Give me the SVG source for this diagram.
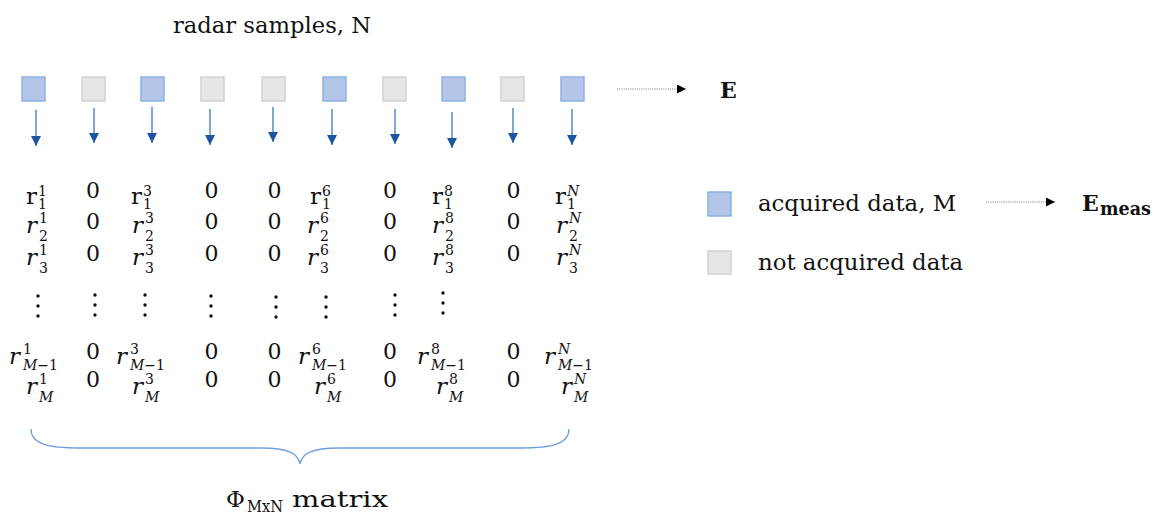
<svg xmlns="http://www.w3.org/2000/svg" width="1158" height="523" viewBox="0 0 1158 523">
<style>
.t{font-family:"DejaVu Serif","Liberation Serif",serif;fill:#111;}
.acq{fill:#b3c6e8;stroke:#8eb0e4;stroke-width:1.5;}
.not{fill:#e6e6e6;stroke:#d2d2d2;stroke-width:1.5;}
.m{font-family:"DejaVu Serif","Liberation Serif",serif;font-size:23px;fill:#111;}
.mi{font-style:italic;}
.s{font-family:"DejaVu Serif","Liberation Serif",serif;font-size:14px;fill:#111;}
.z{font-family:"DejaVu Serif","Liberation Serif",serif;font-size:22px;fill:#111;text-anchor:middle;}
.ar{stroke:#3f78c0;stroke-width:1.3;fill:none;}
.dot{stroke:#8a8a8a;stroke-width:1.2;stroke-dasharray:1.2 1;fill:none;}
.d{fill:#111;}
</style>
<defs>
<marker id="bh" viewBox="0 0 10 10" refX="10" refY="5" markerWidth="10" markerHeight="10" markerUnits="userSpaceOnUse" orient="auto"><path d="M0,0 L10,5 L0,10 z" fill="#1c56a0"/></marker>
<marker id="kh" viewBox="0 0 10 10" refX="10" refY="5" markerWidth="10" markerHeight="9" markerUnits="userSpaceOnUse" orient="auto"><path d="M0,0 L10,5 L0,10 z" fill="#000"/></marker>
</defs>

<text class="t" x="173" y="33" font-size="22" textLength="198" lengthAdjust="spacingAndGlyphs">radar samples, N</text>

<g id="samples">
<rect id="s1" class="acq" x="22" y="77" width="23" height="24"/>
<rect id="s2" class="not" x="82" y="77" width="23" height="24"/>
<rect id="s3" class="acq" x="141" y="77" width="23" height="24"/>
<rect id="s4" class="not" x="201" y="77" width="23" height="24"/>
<rect id="s5" class="not" x="262" y="77" width="23" height="24"/>
<rect id="s6" class="acq" x="323" y="77" width="23" height="24"/>
<rect id="s7" class="not" x="383" y="77" width="23" height="24"/>
<rect id="s8" class="acq" x="442" y="77" width="23" height="24"/>
<rect id="s9" class="not" x="501" y="77" width="23" height="24"/>
<rect id="s10" class="acq" x="561" y="77" width="23" height="24"/>
</g>

<g id="E">
<text class="t" x="720" y="98" font-size="22" font-weight="bold">E</text>
</g>

<g id="col1">
<text class="m" x="26" y="204">r</text><text class="s" x="38" y="196">1</text><text class="s" x="38" y="209">1</text>
<text class="m mi" x="26" y="233">r</text><text class="s" x="39" y="223">1</text><text class="s" x="39" y="241">2</text>
<text class="m mi" x="26" y="265">r</text><text class="s" x="39" y="255">1</text><text class="s" x="39" y="273">3</text>
<circle class="d" cx="38" cy="296" r="1.7"/><circle class="d" cx="38" cy="306" r="1.7"/><circle class="d" cx="38" cy="316" r="1.7"/>
<text class="m mi" x="9" y="364">r</text><text class="s" x="23" y="354">1</text><text class="s" x="23" y="370"><tspan font-style="italic">M</tspan>−1</text>
<text class="m mi" x="26" y="394">r</text><text class="s" x="39" y="384">1</text><text class="s" x="39" y="402" font-style="italic">M</text>
</g>

<g id="col2">
<text class="z" x="93" y="198">0</text><text class="z" x="93" y="229">0</text><text class="z" x="93" y="261">0</text>
<circle class="d" cx="95" cy="295" r="1.7"/><circle class="d" cx="95" cy="305" r="1.7"/><circle class="d" cx="95" cy="315" r="1.7"/>
<text class="z" x="93" y="359">0</text><text class="z" x="93" y="387">0</text>
</g>

<g id="col3">
<text class="m" x="131" y="204">r</text><text class="s" x="143" y="196">3</text><text class="s" x="143" y="209">1</text>
<text class="m mi" x="132" y="233">r</text><text class="s" x="145" y="223">3</text><text class="s" x="145" y="241">2</text>
<text class="m mi" x="132" y="265">r</text><text class="s" x="145" y="255">3</text><text class="s" x="145" y="273">3</text>
<circle class="d" cx="145" cy="295" r="1.7"/><circle class="d" cx="145" cy="305" r="1.7"/><circle class="d" cx="145" cy="315" r="1.7"/>
<text class="m mi" x="116" y="364">r</text><text class="s" x="130" y="354">3</text><text class="s" x="130" y="370"><tspan font-style="italic">M</tspan>−1</text>
<text class="m mi" x="132" y="394">r</text><text class="s" x="145" y="384">3</text><text class="s" x="145" y="402" font-style="italic">M</text>
</g>

<g id="col4">
<text class="z" x="211.5" y="198">0</text><text class="z" x="211.5" y="229">0</text><text class="z" x="211.5" y="261">0</text>
<circle class="d" cx="211" cy="296" r="1.7"/><circle class="d" cx="211" cy="306" r="1.7"/><circle class="d" cx="211" cy="316" r="1.7"/>
<text class="z" x="211.5" y="359">0</text><text class="z" x="211.5" y="387">0</text>
</g>

<g id="col5">
<text class="z" x="274.5" y="198">0</text><text class="z" x="274.5" y="229">0</text><text class="z" x="274.5" y="261">0</text>
<circle class="d" cx="276" cy="297" r="1.7"/><circle class="d" cx="276" cy="307" r="1.7"/><circle class="d" cx="276" cy="317" r="1.7"/>
<text class="z" x="274.5" y="359">0</text><text class="z" x="274.5" y="387">0</text>
</g>

<g id="col6">
<text class="m" x="310" y="204">r</text><text class="s" x="322" y="196">6</text><text class="s" x="322" y="209">1</text>
<text class="m mi" x="307" y="233">r</text><text class="s" x="320" y="223">6</text><text class="s" x="320" y="241">2</text>
<text class="m mi" x="307" y="265">r</text><text class="s" x="320" y="255">6</text><text class="s" x="320" y="273">3</text>
<circle class="d" cx="326" cy="297" r="1.7"/><circle class="d" cx="326" cy="307" r="1.7"/><circle class="d" cx="326" cy="317" r="1.7"/>
<text class="m mi" x="298" y="364">r</text><text class="s" x="312" y="354">6</text><text class="s" x="312" y="370"><tspan font-style="italic">M</tspan>−1</text>
<text class="m mi" x="314" y="394">r</text><text class="s" x="327" y="384">6</text><text class="s" x="327" y="402" font-style="italic">M</text>
</g>

<g id="col7">
<text class="z" x="390" y="198">0</text><text class="z" x="390" y="229">0</text><text class="z" x="390" y="261">0</text>
<circle class="d" cx="395" cy="295" r="1.7"/><circle class="d" cx="395" cy="305" r="1.7"/><circle class="d" cx="395" cy="315" r="1.7"/>
<text class="z" x="390" y="359">0</text><text class="z" x="390" y="387">0</text>
</g>

<g id="col8">
<text class="m" x="432" y="204">r</text><text class="s" x="444" y="196">8</text><text class="s" x="444" y="209">1</text>
<text class="m mi" x="432" y="233">r</text><text class="s" x="445" y="223">8</text><text class="s" x="445" y="241">2</text>
<text class="m mi" x="432" y="265">r</text><text class="s" x="445" y="255">8</text><text class="s" x="445" y="273">3</text>
<circle class="d" cx="443" cy="293" r="1.7"/><circle class="d" cx="443" cy="303" r="1.7"/><circle class="d" cx="443" cy="313" r="1.7"/>
<text class="m mi" x="417" y="364">r</text><text class="s" x="431" y="354">8</text><text class="s" x="431" y="370"><tspan font-style="italic">M</tspan>−1</text>
<text class="m mi" x="436" y="394">r</text><text class="s" x="449" y="384">8</text><text class="s" x="449" y="402" font-style="italic">M</text>
</g>

<g id="col9">
<text class="z" x="513.5" y="198">0</text><text class="z" x="513.5" y="229">0</text><text class="z" x="513.5" y="261">0</text>
<text class="z" x="513.5" y="359">0</text><text class="z" x="513.5" y="387">0</text>
</g>

<g id="col10">
<text class="m" x="555" y="204">r</text><text class="s" x="567" y="196" font-style="italic">N</text><text class="s" x="567" y="209">1</text>
<text class="m mi" x="556" y="233">r</text><text class="s" x="569" y="223" font-style="italic">N</text><text class="s" x="569" y="241">2</text>
<text class="m mi" x="556" y="265">r</text><text class="s" x="569" y="255" font-style="italic">N</text><text class="s" x="569" y="273">3</text>
<text class="m mi" x="544" y="364">r</text><text class="s" x="558" y="354" font-style="italic">N</text><text class="s" x="558" y="370"><tspan font-style="italic">M</tspan>−1</text>
<text class="m mi" x="561" y="394">r</text><text class="s" x="574" y="384" font-style="italic">N</text><text class="s" x="574" y="402" font-style="italic">M</text>
</g>

<g id="legend-acquired">
<rect class="acq" x="708" y="192" width="23" height="24"/>
<text class="t" x="758" y="211" font-size="22" textLength="198" lengthAdjust="spacingAndGlyphs">acquired data, M</text>
</g>
<g id="legend-not-acquired">
<rect class="not" x="708" y="251" width="23" height="23"/>
<text class="t" x="758" y="270" font-size="22" textLength="205" lengthAdjust="spacingAndGlyphs">not acquired data</text>
</g>
<g id="Emeas">
<text class="t" x="1082" y="211" font-size="22" font-weight="bold">E</text>
<text class="t" x="1100" y="215" font-size="19" font-weight="bold" textLength="51" lengthAdjust="spacingAndGlyphs">meas</text>
</g>

<g id="phi-label">
<text class="t" x="226" y="507" font-size="23">Φ</text>
<text class="t" x="247" y="512" font-size="16" textLength="36" lengthAdjust="spacingAndGlyphs">MxN</text>
<text class="t" x="292" y="507" font-size="23" textLength="96" lengthAdjust="spacingAndGlyphs">matrix</text>
</g>

<g id="connectors">
<line class="ar" x1="36" y1="110" x2="36" y2="146" marker-end="url(#bh)"/>
<line class="ar" x1="94" y1="108" x2="94" y2="143" marker-end="url(#bh)"/>
<line class="ar" x1="152" y1="107" x2="152" y2="143" marker-end="url(#bh)"/>
<line class="ar" x1="210" y1="109" x2="210" y2="145" marker-end="url(#bh)"/>
<line class="ar" x1="273" y1="107" x2="273" y2="142" marker-end="url(#bh)"/>
<line class="ar" x1="332" y1="109" x2="332" y2="145" marker-end="url(#bh)"/>
<line class="ar" x1="395" y1="109" x2="395" y2="144" marker-end="url(#bh)"/>
<line class="ar" x1="452" y1="112" x2="452" y2="148" marker-end="url(#bh)"/>
<line class="ar" x1="513" y1="108" x2="513" y2="143" marker-end="url(#bh)"/>
<line class="ar" x1="572" y1="109" x2="572" y2="145" marker-end="url(#bh)"/>
<line class="dot" x1="617" y1="89" x2="686" y2="89" marker-end="url(#kh)"/>
<line class="dot" x1="986" y1="202" x2="1055" y2="202" marker-end="url(#kh)"/>
<path d="M31,429 C31,444 48,448 80,448 L262,448 C287,448 298,453 300,464 C302,453 313,448 338,448 L520,448 C552,448 569,444 569,429" fill="none" stroke="#6d9ee0" stroke-width="1.3"/>
</g>
</svg>
